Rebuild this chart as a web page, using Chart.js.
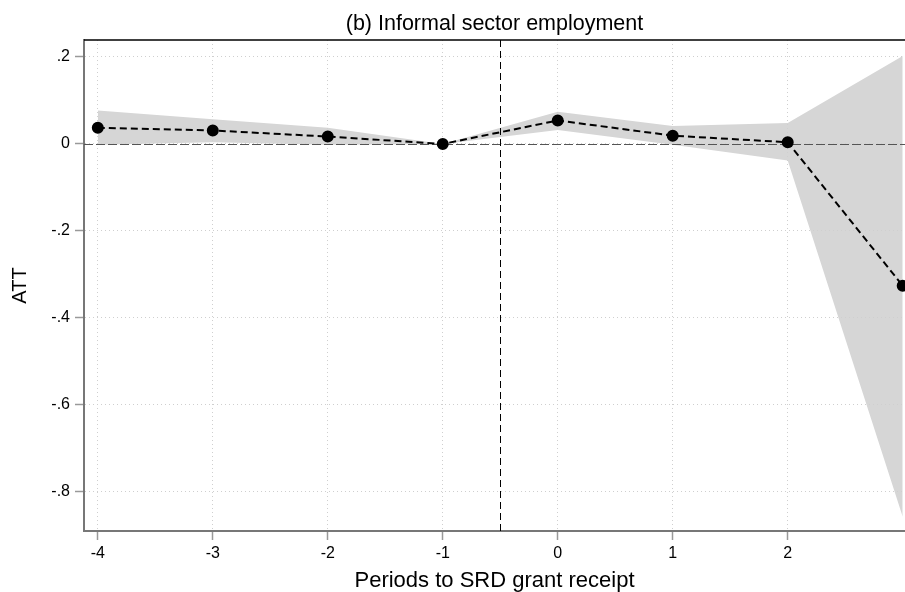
<!DOCTYPE html>
<html>
<head>
<meta charset="utf-8">
<title>Informal sector employment</title>
<script src="https://cdn.jsdelivr.net/npm/chart.js@4"></script>
<style>
  body { margin: 0; background: #fff; }
  #wrap { width: 905px; height: 592px; }
</style>
</head>
<body>
<div id="wrap"><canvas id="chart"></canvas></div>
<script>
// event-study estimates
const periods = [-4, -3, -2, -1, 0, 1, 2, 3];
const att = [0.037, 0.031, 0.017, 0, 0.054, 0.019, 0.004, -0.326];
const ciUpper = [0.077, 0.057, 0.037, 0, 0.074, 0.041, 0.048, 0.202];
const ciLower = [-0.002, 0.004, -0.002, 0, 0.032, -0.002, -0.038, -0.857];

const xTicks = [-4, -3, -2, -1, 0, 1, 2];
const yTicks = [0.2, 0, -0.2, -0.4, -0.6, -0.8];
const treatLine = -0.5;
const zeroLine = 0;

const FONT = '"Liberation Sans", Arial, Helvetica, sans-serif';

function pts(ys) {
    return periods.map((p, i) => ({ x: p, y: ys[i] }));
}

function fmtY(v) {
    if (Math.abs(v) < 1e-9) return '0';
    return (v < 0 ? '-' : '') + String(Math.abs(v).toFixed(1)).replace(/^0/, '');
}

// reference lines and top frame
const refLines = {
    id: 'refLines',
    beforeDatasetsDraw(chart) {
        const { ctx, chartArea: a, scales: { x, y } } = chart;
        ctx.save();
        ctx.lineWidth = 1;
        ctx.strokeStyle = '#555';
        ctx.setLineDash([9, 3]);
        const y0 = Math.round(y.getPixelForValue(zeroLine)) + 0.5;
        ctx.beginPath();
        ctx.moveTo(a.left, y0);
        ctx.lineTo(a.right, y0);
        ctx.stroke();

        ctx.strokeStyle = '#000';
        ctx.setLineDash([7, 4]);
        const xv = Math.round(x.getPixelForValue(treatLine)) + 0.5;
        ctx.beginPath();
        ctx.moveTo(xv, a.top);
        ctx.lineTo(xv, a.bottom);
        ctx.stroke();
        ctx.restore();
    },
    afterDraw(chart) {
        const { ctx, chartArea: a } = chart;
        ctx.save();
        ctx.strokeStyle = '#000';
        ctx.lineWidth = 1.5;
        ctx.beginPath();
        ctx.moveTo(a.left, a.top);
        ctx.lineTo(a.right, a.top);
        ctx.stroke();
        ctx.restore();
    }
};

new Chart(document.getElementById('chart'), {
    type: 'line',
    data: {
        datasets: [
            {
                label: 'ATT',
                data: pts(att),
                borderColor: '#000',
                borderWidth: 2,
                borderDash: [7, 4],
                pointRadius: 5,
                pointBackgroundColor: '#000',
                pointBorderColor: '#000',
                fill: false,
                tension: 0
            },
            {
                label: 'upper',
                data: pts(ciUpper),
                borderWidth: 0,
                pointRadius: 0,
                backgroundColor: '#d6d6d6',
                fill: '+1',
                tension: 0
            },
            {
                label: 'lower',
                data: pts(ciLower),
                borderWidth: 0,
                pointRadius: 0,
                fill: false,
                tension: 0
            }
        ]
    },
    options: {
        responsive: true,
        maintainAspectRatio: false,
        animation: false,
        layout: { padding: 0, autoPadding: false },
        plugins: {
            legend: { display: false },
            tooltip: { enabled: false },
            filler: { drawTime: 'beforeDraw' },
            title: {
                display: true,
                fullSize: false,
                text: '(b) Informal sector employment',
                color: '#000',
                font: { family: FONT, size: 21.5, weight: 'normal', lineHeight: 1.2 },
                padding: { top: 11, bottom: 3.2 }
            }
        },
        scales: {
            x: {
                type: 'linear',
                min: -4.12,
                max: 3.02,
                afterBuildTicks: s => { s.ticks = xTicks.map(v => ({ value: v })); },
                afterFit: s => { s.height = 61; },
                ticks: {
                    color: '#000',
                    font: { family: FONT, size: 16 },
                    padding: 4,
                    maxRotation: 0,
                    callback: v => String(v)
                },
                grid: {
                    color: '#cfcfcf',
                    lineWidth: 1,
                    drawTicks: true,
                    tickLength: 9,
                    tickColor: '#999',
                    tickWidth: 1.5,
                    tickBorderDash: []
                },
                border: { display: true, color: '#777', width: 2, dash: [1, 3] },
                title: {
                    display: true,
                    text: 'Periods to SRD grant receipt',
                    color: '#000',
                    font: { family: FONT, size: 22, lineHeight: 1 },
                    padding: { top: 0, bottom: 0 }
                }
            },
            y: {
                type: 'linear',
                min: -0.89,
                max: 0.239,
                afterBuildTicks: s => { s.ticks = yTicks.map(v => ({ value: v })); },
                afterFit: s => { s.width = 84; },
                ticks: {
                    color: '#000',
                    font: { family: FONT, size: 16 },
                    padding: 5,
                    callback: v => fmtY(v)
                },
                grid: {
                    color: '#cfcfcf',
                    lineWidth: 1,
                    drawTicks: true,
                    tickLength: 9,
                    tickColor: '#999',
                    tickWidth: 1.5,
                    tickBorderDash: []
                },
                border: { display: true, color: '#777', width: 2, dash: [1, 3] },
                title: {
                    display: true,
                    text: 'ATT',
                    color: '#000',
                    font: { family: FONT, size: 20, lineHeight: 1.2 },
                    padding: { top: 8, bottom: 0 }
                }
            }
        }
    },
    plugins: [refLines]
});
</script>
</body>
</html>
